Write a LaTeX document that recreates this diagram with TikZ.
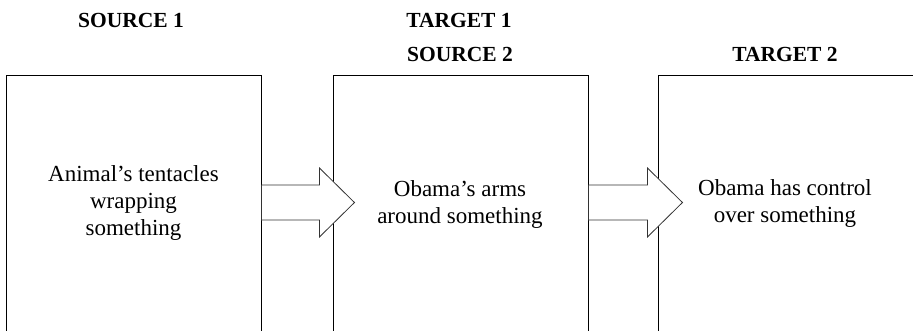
\documentclass[tikz,border=0pt]{standalone}
\usepackage{fontspec}
\setmainfont{Liberation Serif}
\begin{document}
\begin{tikzpicture}[x=1pt,y=-1pt,
  frame/.style={draw=black,line width=0.9pt,rectangle,minimum width=255pt,minimum height=280pt,inner sep=0pt},
  heading/.style={font=\fontsize{21.5}{26}\selectfont\bfseries,anchor=base,inner sep=0pt},
  body/.style={font=\fontsize{23}{27}\selectfont,align=center,inner sep=0pt},
  blockarrow/.style={draw=black!80,fill=white,line width=0.8pt,line join=miter}]
\useasboundingbox (0,0) rectangle (913,330);
\clip (0,0) rectangle (913,330);

% three frames, open towards the bottom edge (the last one also to the right)
\node[frame] (b1) at (133.5,215) {};
\node[frame] (b2) at (460.5,215) {};
\node[frame,minimum width=265pt] (b3) at (790.5,215) {};

% headings
\node[heading] (h1) at (131,27) {SOURCE 1};
\node[heading] (h2) at (459,27) {TARGET 1};
\node[heading] (h3) at (460,61) {SOURCE 2};
\node[heading] (h4) at (785,61) {TARGET 2};

% block arrows from one frame into the next
\coordinate (a1) at (b1.east |- 0,202.5);
\coordinate (a2) at (b2.east |- 0,202.5);
\draw[blockarrow] (a1) ++(0,-17.5) -- ++(58,0) -- ++(0,-17) -- ++(35,34.5)
  -- ++(-35,34.5) -- ++(0,-17) -- ++(-58,0) -- cycle;
\draw[blockarrow] (a2) ++(0,-17.5) -- ++(59,0) -- ++(0,-17) -- ++(35,34.5)
  -- ++(-35,34.5) -- ++(0,-17) -- ++(-59,0) -- cycle;

% texts inside the frames
\node[body] (t1) at (133.5,203) {Animal’s tentacles\\wrapping\\something};
\node[body] (t2) at (460,204) {Obama’s arms\\around something};
\node[body] (t3) at (785,203) {Obama has control\\over something};
\end{tikzpicture}
\end{document}
